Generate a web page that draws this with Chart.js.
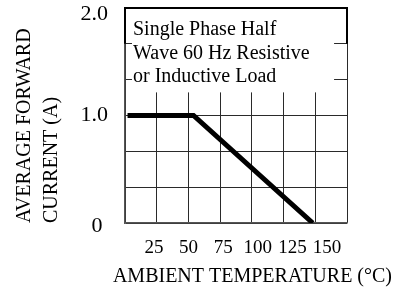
<!DOCTYPE html>
<html>
<head>
<meta charset="utf-8">
<script src="https://cdn.jsdelivr.net/npm/chart.js@4"></script>
<style>
  html, body { margin: 0; padding: 0; background: #fff; }
  canvas { display: block; }
</style>
</head>
<body>
<canvas id="derating" width="404" height="290"></canvas>
<script>
// derating curve
const tempC = [2, 54, 148];
const currentA = [1, 1, 0];

// grid and labels
const xGridValues = [0, 25, 50, 75, 100, 125, 150, 175];
const xLabelValues = [25, 50, 75, 100, 125, 150];
const yGridValues = [0, 1 / 3, 2 / 3, 1, 4 / 3, 5 / 3, 2];
const yLabelValues = [0, 1, 2];
const yLabelTexts = ['0', '1.0', '2.0'];
const noteLines = ['Single Phase Half', 'Wave 60 Hz Resistive', 'or Inductive Load'];

const serif = '"Liberation Serif", "Times New Roman", serif';

// white note box on top of the grid
const notePlugin = {
    id: 'note',
    beforeDatasetsDraw(chart) {
        const { ctx, scales: { x, y } } = chart;
        const top = y.getPixelForValue(2);
        const left = x.getPixelForValue(0);
        const right = x.getPixelForValue(175);
        ctx.save();
        ctx.fillStyle = '#fff';
        const bx0 = x.getPixelForValue(5.5);
        const bx1 = x.getPixelForValue(164.8);
        const by1 = y.getPixelForValue(1.215);
        ctx.fillRect(bx0, top + 1, bx1 - bx0, by1 - top - 1);

        ctx.strokeStyle = '#000';
        ctx.lineWidth = 2;
        ctx.beginPath();
        ctx.moveTo(left, y.getPixelForValue(5 / 3));
        ctx.lineTo(left, top);
        ctx.lineTo(right, top);
        ctx.lineTo(right, y.getPixelForValue(5 / 3));
        ctx.stroke();

        ctx.fillStyle = '#000';
        ctx.font = '20px ' + serif;
        ctx.textBaseline = 'alphabetic';
        ctx.textAlign = 'left';
        const offs = [27, 51, 74];
        noteLines.forEach((t, i) => ctx.fillText(t, left + 8, top + offs[i]));
        ctx.restore();
    }
};

new Chart(document.getElementById('derating').getContext('2d'), {
    type: 'line',
    data: {
        datasets: [{
            data: tempC.map((t, i) => ({ x: t, y: currentA[i] })),
            borderColor: '#000',
            borderWidth: 5,
            pointRadius: 0,
            tension: 0,
            fill: false,
        }],
    },
    options: {
        responsive: false,
        animation: false,
        layout: { padding: { top: 8, right: 12, bottom: 0, left: 0 } },
        plugins: {
            legend: { display: false },
            tooltip: { enabled: false },
            title: {
                display: true,
                position: 'bottom',
                align: 'end',
                text: 'AMBIENT TEMPERATURE (°C)',
                color: '#000',
                font: { family: serif, size: 20, weight: 'normal' },
                padding: { top: 0, bottom: 1 },
            },
        },
        scales: {
            x: {
                type: 'linear',
                min: 0,
                max: 175,
                afterBuildTicks: s => { s.ticks = xGridValues.map(v => ({ value: v })); },
                afterFit: s => { s.height = 0; s.paddingLeft = 0; s.paddingRight = 0; },
                ticks: { display: false },
                grid: { color: '#2a2a2a', lineWidth: 1, drawTicks: false },
                border: { color: '#555', width: 1.5 },
            },
            xl: {
                type: 'linear',
                position: 'bottom',
                min: 4.05,
                max: 164.45,
                afterBuildTicks: s => { s.ticks = xLabelValues.map(v => ({ value: v })); },
                afterFit: s => { s.height = 42; s.paddingLeft = 0; s.paddingRight = 0; },
                ticks: {
                    color: '#000',
                    padding: 14,
                    maxRotation: 0,
                    autoSkip: false,
                    font: { family: serif, size: 19 },
                    callback: v => String(v),
                },
                grid: { display: false, drawTicks: false },
                border: { display: false },
            },
            y: {
                type: 'linear',
                min: 0,
                max: 2,
                afterBuildTicks: s => { s.ticks = yGridValues.map(v => ({ value: v })); },
                afterFit: s => { s.width = 125; s.paddingTop = 0; s.paddingBottom = 0; },
                ticks: {
                    color: '#000',
                    padding: 17,
                    // top and bottom labels sit a little below their lines
                    font: c => {
                        const v = c.tick ? c.tick.value : null;
                        const lh = v === 2 ? '12px' : v === 0 ? '7px' : 1.2;
                        return { family: serif, size: 22, lineHeight: lh };
                    },
                    callback: v => {
                        const i = yLabelValues.indexOf(v);
                        if (i < 0) return '';
                        if (v === 2) return ['', yLabelTexts[i]];
                        if (v === 0) return ['', yLabelTexts[i] + ' '];
                        return yLabelTexts[i];
                    },
                },
                grid: { color: '#2a2a2a', lineWidth: 1, drawTicks: false },
                border: { color: '#555', width: 1.5 },
                title: {
                    display: true,
                    align: 'start',
                    text: ['AVERAGE FORWARD', 'CURRENT (A)'],
                    color: '#000',
                    font: { family: serif, size: 20, lineHeight: 1.35 },
                    padding: { top: 11.5, bottom: 0 },
                },
            },
            yr: {
                type: 'linear',
                position: 'right',
                min: 0,
                max: 2,
                afterFit: s => { s.width = 45; s.paddingTop = 0; s.paddingBottom = 0; },
                ticks: { display: false },
                grid: { display: false, drawTicks: false },
                border: { display: false },
            },
        },
    },
    plugins: [notePlugin],
});
</script>
</body>
</html>
